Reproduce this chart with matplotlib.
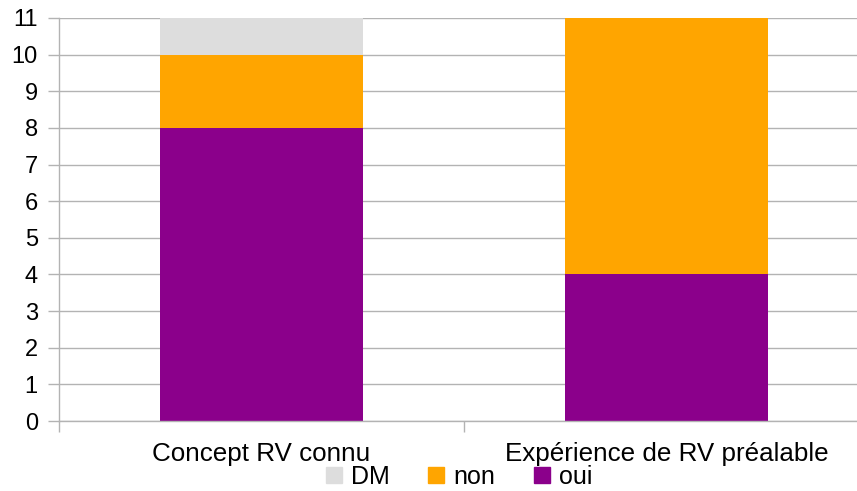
import numpy as np
import matplotlib.pyplot as plt
from matplotlib.patches import Patch

plt.rcParams['font.family'] = ['Liberation Sans', 'DejaVu Sans']

categories = ['Concept RV connu', 'Expérience de RV préalable']
oui = [8, 4]
non = [2, 7]
dm = [1, 0]

col_oui = '#8b008b'
col_non = '#ffa500'
col_dm = '#dddddd'
grid_col = '#b3b3b3'

W, H = 857, 491
fig = plt.figure(figsize=(W / 100, H / 100), dpi=100)
# axes run a little past the right edge of the picture, like the original export
left, right, top, bottom = 59, 869, 18, 421
ax = fig.add_axes([left / W, (H - bottom) / H, (right - left) / W, (bottom - top) / H])

x = np.arange(len(categories))
ax.bar(x, oui, width=0.5, color=col_oui, zorder=3)
ax.bar(x, non, width=0.5, bottom=oui, color=col_non, zorder=3)
ax.bar(x, dm, width=0.5, bottom=np.array(oui) + np.array(non), color=col_dm, zorder=3)

ax.set_xlim(-0.5, len(categories) - 0.5)
ax.set_ylim(0, 11)
ax.set_yticks(range(0, 12))
ax.yaxis.grid(True, color=grid_col, linewidth=1.0, zorder=0)

# category boundaries as major ticks, labels on minor ticks
ax.set_xticks(np.arange(-0.5, len(categories), 1.0))
ax.set_xticklabels([])
ax.set_xticks(x, minor=True)
ax.set_xticklabels(categories, minor=True)
ax.tick_params(axis='x', which='major', length=8, width=1, color=grid_col, direction='out')
ax.tick_params(axis='x', which='minor', length=0, pad=15, labelsize=18.7)
ax.tick_params(axis='y', length=8, width=1, color=grid_col, labelsize=17, pad=7.3)

for s in ['top', 'right']:
    ax.spines[s].set_visible(False)
for s in ['left', 'bottom']:
    ax.spines[s].set_color(grid_col)
    ax.spines[s].set_linewidth(1.0)
ax.spines['bottom'].set_zorder(4)

handles = [Patch(color=col_dm, label='DM'),
           Patch(color=col_non, label='non'),
           Patch(color=col_oui, label='oui')]
fig.legend(handles=handles, loc='center', bbox_to_anchor=(459 / W, (H - 477) / H),
           ncol=3, frameon=False, fontsize=18, handlelength=0.64, handleheight=0.64,
           handletextpad=0.36, columnspacing=1.55, borderpad=0)

fig.savefig('out.png', dpi=100)
